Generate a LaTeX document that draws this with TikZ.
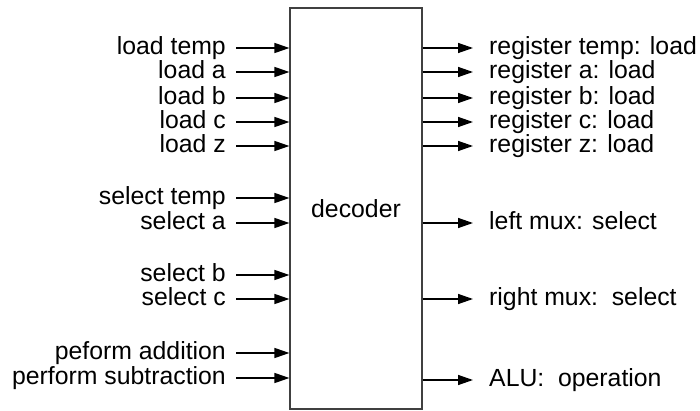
\documentclass[tikz,border=0pt]{standalone}
\usepackage{fontspec}
\setmainfont{Liberation Sans}
\usetikzlibrary{arrows.meta}
\begin{document}
\begin{tikzpicture}[x=1pt,y=-1pt,
  lab/.style={font=\fontsize{24.8pt}{28pt}\selectfont, inner sep=0pt, text height=17.8pt, text depth=5.2pt},
  arr/.style={line width=1.4pt, -{Triangle[length=15pt,width=10pt]}},
  box/.style={draw=black!75, line width=1.2pt, minimum width=132pt, minimum height=401pt, inner sep=0pt, font=\fontsize{24.8pt}{28pt}\selectfont}]
\useasboundingbox (0,0) rectangle (700,411);
\node[box] (dec) at (356,208.5) {decoder};
% left inputs
\foreach \n/\y/\t in {l1/48/load temp, l2/72/load a, l3/98/load b, l4/122/load c, l5/146/load z,
  l6/198/select temp, l7/223/select a, l8/275/select b, l9/299/select c,
  l10/353/peform addition, l11/378/perform subtraction}{
  \node[lab, anchor=east] (\n) at (226,\y) {\t};
  \draw[arr] ([xshift=10pt]\n.east) -- (\n -| dec.west);
}
% right outputs
\foreach \n/\y/\t in {r1/48/register temp: load, r2/72/register a: load, r3/98/register b: load,
  r4/122/register c: load, r5/146/register z: load, r6/223/left mux: select,
  r7/299/right mux:\ \ select, r8/380/ALU:\ \ operation}{
  \node[lab, anchor=west] (\n) at (489,\y) {\t};
  \draw[arr] (\n -| dec.east) -- ([xshift=-16pt]\n.west);
}
\end{tikzpicture}
\end{document}
